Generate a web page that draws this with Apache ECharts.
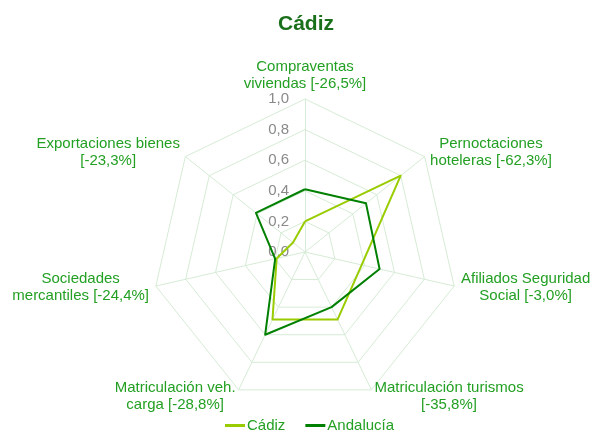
<!DOCTYPE html>
<html>
<head>
  <meta charset="utf-8">
  <title>Cádiz</title>
  <script src="https://cdn.jsdelivr.net/npm/echarts@6/dist/echarts.min.js"></script>
</head>
<body style="margin:0">
  <div id="main" style="width:592px;height:433px;"></div>
  <script type="text/javascript">
    // indicators, listed in the order echarts lays them out (top, then counterclockwise)
    var indicators = [
      'Compraventas\nviviendas [-26,5%]',
      'Exportaciones bienes\n[-23,3%]',
      'Sociedades\nmercantiles [-24,4%]',
      'Matriculación veh.\ncarga [-28,8%]',
      'Matriculación turismos\n[-35,8%]',
      'Afiliados Seguridad\nSocial [-3,0%]',
      'Pernoctaciones\nhoteleras [-62,3%]'
    ];
    var cadiz = [0.20, 0.10, 0.19, 0.49, 0.49, 0.38, 0.80];
    var andalucia = [0.41, 0.41, 0.20, 0.60, 0.40, 0.50, 0.51];

    var myChart = echarts.init(document.getElementById('main'));

    var gridColor = '#d6ebd6';
    var textGreen = '#23a023';

    var option = {
      animation: false,
      title: {
        text: 'Cádiz',
        left: 273,
        top: 9,
        textStyle: { color: '#1a6f1a', fontSize: 21, fontWeight: 'bold', fontFamily: 'Liberation Sans' }
      },
      legend: {
        bottom: 0,
        left: 225,
        padding: 0,
        icon: 'rect',
        itemWidth: 20,
        itemHeight: 3,
        itemGap: 20,
        textStyle: { color: textGreen, fontSize: 15, fontFamily: 'Liberation Sans', padding: [0, 0, 0, -3] },
        data: ['Cádiz', 'Andalucía']
      },
      radar: {
        center: [305, 252],
        radius: 153,
        shape: 'polygon',
        splitNumber: 5,
        startAngle: 90,
        nameGap: 7,
        indicator: indicators.map(function (name, i) {
          var ind = { name: name, min: 0, max: 1 };
          if (i === 0) {
            ind.axisLabel = {
              show: true,
              color: '#8a8a8a',
              fontSize: 15,
              fontFamily: 'Liberation Sans',
              margin: 16,
              formatter: function (v) { return v.toFixed(1).replace('.', ','); }
            };
          }
          return ind;
        }),
        axisName: {
          color: textGreen,
          fontSize: 15,
          fontFamily: 'Liberation Sans',
          formatter: function (name) {
            return name.split('\n').map(function (s) { return '{c|' + s + '}'; }).join('\n');
          },
          rich: {
            c: { align: 'center', color: textGreen, fontSize: 15, lineHeight: 17, fontFamily: 'Liberation Sans' }
          }
        },
        splitLine: { lineStyle: { color: gridColor, width: 1 } },
        splitArea: { show: false },
        axisLine: { lineStyle: { color: gridColor, width: 1 } }
      },
      series: [
        {
          name: 'Radar',
          type: 'radar',
          symbol: 'none',
          data: [
            {
              name: 'Cádiz',
              value: cadiz,
              itemStyle: { color: '#99cc00' },
              lineStyle: { color: '#99cc00', width: 2 }
            },
            {
              name: 'Andalucía',
              value: andalucia,
              itemStyle: { color: '#008000' },
              lineStyle: { color: '#008000', width: 2 }
            }
          ]
        }
      ]
    };
    myChart.setOption(option);
  </script>
</body>
</html>
